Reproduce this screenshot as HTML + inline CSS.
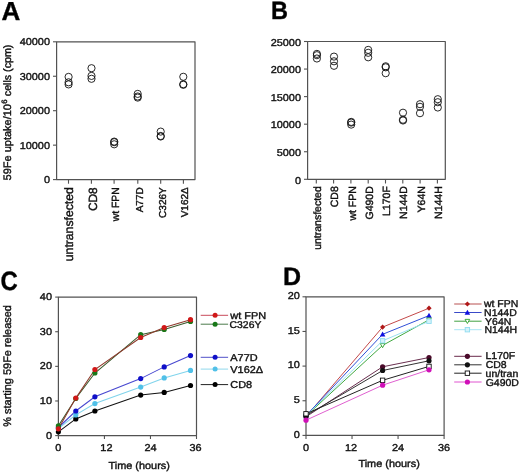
<!DOCTYPE html>
<html><head><meta charset="utf-8"><style>
html,body{margin:0;padding:0;background:#fff;}
body{width:520px;height:472px;overflow:hidden;}
svg{display:block;font-family:"Liberation Sans", sans-serif;filter:blur(0.35px);}
text{stroke:#111;stroke-width:0.4px;text-rendering:geometricPrecision;}
</style></head><body>
<svg width="520" height="472" viewBox="0 0 520 472">
<rect width="520" height="472" fill="#fff"/>
<text transform="translate(1.5,19.7) scale(1,1)" font-size="26" text-anchor="start" font-weight="bold" fill="#000" >A</text>
<rect x="56.6" y="41.8" width="138.4" height="137.8" fill="none" stroke="#525252" stroke-width="1.2" stroke-linejoin="round"/>
<line x1="53" y1="41.8" x2="56.6" y2="41.8" stroke="#525252" stroke-width="1.1"/>
<text transform="translate(50.0,45.4) scale(1.03,0.94)" font-size="10.6" text-anchor="end" font-weight="normal" fill="#111" >40000</text>
<line x1="53" y1="76.25" x2="56.6" y2="76.25" stroke="#525252" stroke-width="1.1"/>
<text transform="translate(50.0,79.85) scale(1.03,0.94)" font-size="10.6" text-anchor="end" font-weight="normal" fill="#111" >30000</text>
<line x1="53" y1="110.7" x2="56.6" y2="110.7" stroke="#525252" stroke-width="1.1"/>
<text transform="translate(50.0,114.3) scale(1.03,0.94)" font-size="10.6" text-anchor="end" font-weight="normal" fill="#111" >20000</text>
<line x1="53" y1="145.15" x2="56.6" y2="145.15" stroke="#525252" stroke-width="1.1"/>
<text transform="translate(50.0,148.75) scale(1.03,0.94)" font-size="10.6" text-anchor="end" font-weight="normal" fill="#111" >10000</text>
<line x1="53" y1="179.60000000000002" x2="56.6" y2="179.60000000000002" stroke="#525252" stroke-width="1.1"/>
<text transform="translate(50.0,183.20000000000002) scale(1.03,0.94)" font-size="10.6" text-anchor="end" font-weight="normal" fill="#111" >0</text>
<text transform="translate(10.5,180.4) rotate(-90)" font-size="10.85" text-anchor="start" fill="#111" textLength="76.4" lengthAdjust="spacingAndGlyphs">59Fe uptake/10</text>
<text transform="translate(6.9,103.8) rotate(-90)" font-size="7.8" text-anchor="start" fill="#111" >6</text>
<text transform="translate(10.5,44.6) rotate(-90)" font-size="10.7" text-anchor="end" fill="#111" textLength="51.6" lengthAdjust="spacingAndGlyphs">cells (cpm)</text>
<line x1="68.5" y1="179.6" x2="68.5" y2="183.7" stroke="#525252" stroke-width="1.1"/>
<text transform="translate(73.2,187.3) rotate(-90)" font-size="12.2" text-anchor="end" fill="#111" >untransfected</text>
<line x1="91.4" y1="179.6" x2="91.4" y2="183.7" stroke="#525252" stroke-width="1.1"/>
<text transform="translate(97.4,187.3) rotate(-90)" font-size="11.9" text-anchor="end" fill="#111" >CD8</text>
<line x1="114.1" y1="179.6" x2="114.1" y2="183.7" stroke="#525252" stroke-width="1.1"/>
<text transform="translate(119.4,187.3) rotate(-90)" font-size="10.4" text-anchor="end" fill="#111" >wt FPN</text>
<line x1="137.8" y1="179.6" x2="137.8" y2="183.7" stroke="#525252" stroke-width="1.1"/>
<text transform="translate(142.8,187.3) rotate(-90)" font-size="10.0" text-anchor="end" fill="#111" >A77D</text>
<line x1="160.7" y1="179.6" x2="160.7" y2="183.7" stroke="#525252" stroke-width="1.1"/>
<text transform="translate(165.5,187.3) rotate(-90)" font-size="10.0" text-anchor="end" fill="#111" >C326Y</text>
<line x1="183.4" y1="179.6" x2="183.4" y2="183.7" stroke="#525252" stroke-width="1.1"/>
<text transform="translate(187.5,187.3) rotate(-90)" font-size="10.0" text-anchor="end" fill="#111" >V162&#916;</text>
<circle cx="68.6" cy="76.9" r="3.6" fill="none" stroke="#111" stroke-width="0.9"/>
<circle cx="68.6" cy="82.3" r="3.6" fill="none" stroke="#111" stroke-width="0.9"/>
<circle cx="68.6" cy="84.4" r="3.6" fill="none" stroke="#111" stroke-width="0.9"/>
<circle cx="91.5" cy="68.2" r="3.6" fill="none" stroke="#111" stroke-width="0.9"/>
<circle cx="91.5" cy="75.9" r="3.6" fill="none" stroke="#111" stroke-width="0.9"/>
<circle cx="91.5" cy="78.8" r="3.6" fill="none" stroke="#111" stroke-width="0.9"/>
<circle cx="114.2" cy="141.6" r="3.6" fill="none" stroke="#111" stroke-width="0.9"/>
<circle cx="114.2" cy="142.2" r="3.6" fill="none" stroke="#111" stroke-width="0.9"/>
<circle cx="114.2" cy="144.3" r="3.6" fill="none" stroke="#111" stroke-width="0.9"/>
<circle cx="137.7" cy="93.9" r="3.6" fill="none" stroke="#111" stroke-width="0.9"/>
<circle cx="137.7" cy="96.5" r="3.6" fill="none" stroke="#111" stroke-width="0.9"/>
<circle cx="137.7" cy="97.6" r="3.6" fill="none" stroke="#111" stroke-width="0.9"/>
<circle cx="160.7" cy="131.6" r="3.6" fill="none" stroke="#111" stroke-width="0.9"/>
<circle cx="160.7" cy="136.0" r="3.6" fill="none" stroke="#111" stroke-width="0.9"/>
<circle cx="160.7" cy="136.5" r="3.6" fill="none" stroke="#111" stroke-width="0.9"/>
<circle cx="183.3" cy="76.8" r="3.6" fill="none" stroke="#111" stroke-width="0.9"/>
<circle cx="183.3" cy="84.2" r="3.6" fill="none" stroke="#111" stroke-width="0.9"/>
<circle cx="183.3" cy="84.8" r="3.6" fill="none" stroke="#111" stroke-width="0.9"/>
<text transform="translate(271.0,19.0) scale(0.94,1)" font-size="25" text-anchor="start" font-weight="bold" fill="#000" >B</text>
<rect x="307.6" y="41.5" width="137.7" height="137.8" fill="none" stroke="#525252" stroke-width="1.2" stroke-linejoin="round"/>
<line x1="304" y1="41.5" x2="307.6" y2="41.5" stroke="#525252" stroke-width="1.1"/>
<text transform="translate(301.0,45.8) scale(1.03,0.94)" font-size="10.6" text-anchor="end" font-weight="normal" fill="#111" >25000</text>
<line x1="304" y1="69.06" x2="307.6" y2="69.06" stroke="#525252" stroke-width="1.1"/>
<text transform="translate(301.0,73.36) scale(1.03,0.94)" font-size="10.6" text-anchor="end" font-weight="normal" fill="#111" >20000</text>
<line x1="304" y1="96.62" x2="307.6" y2="96.62" stroke="#525252" stroke-width="1.1"/>
<text transform="translate(301.0,100.92) scale(1.03,0.94)" font-size="10.6" text-anchor="end" font-weight="normal" fill="#111" >15000</text>
<line x1="304" y1="124.18" x2="307.6" y2="124.18" stroke="#525252" stroke-width="1.1"/>
<text transform="translate(301.0,128.48000000000002) scale(1.03,0.94)" font-size="10.6" text-anchor="end" font-weight="normal" fill="#111" >10000</text>
<line x1="304" y1="151.74" x2="307.6" y2="151.74" stroke="#525252" stroke-width="1.1"/>
<text transform="translate(301.0,156.04000000000002) scale(1.03,0.94)" font-size="10.6" text-anchor="end" font-weight="normal" fill="#111" >5000</text>
<line x1="304" y1="179.3" x2="307.6" y2="179.3" stroke="#525252" stroke-width="1.1"/>
<text transform="translate(301.0,183.60000000000002) scale(1.03,0.94)" font-size="10.6" text-anchor="end" font-weight="normal" fill="#111" >0</text>
<line x1="316.3" y1="179.3" x2="316.3" y2="183.5" stroke="#525252" stroke-width="1.1"/>
<text transform="translate(320.90000000000003,186.2) rotate(-90)" font-size="10.5" text-anchor="end" fill="#111" >untransfected</text>
<line x1="333.6" y1="179.3" x2="333.6" y2="183.5" stroke="#525252" stroke-width="1.1"/>
<text transform="translate(338.20000000000005,186.2) rotate(-90)" font-size="10.5" text-anchor="end" fill="#111" >CD8</text>
<line x1="350.90000000000003" y1="179.3" x2="350.90000000000003" y2="183.5" stroke="#525252" stroke-width="1.1"/>
<text transform="translate(355.50000000000006,186.2) rotate(-90)" font-size="10.5" text-anchor="end" fill="#111" >wt FPN</text>
<line x1="368.20000000000005" y1="179.3" x2="368.20000000000005" y2="183.5" stroke="#525252" stroke-width="1.1"/>
<text transform="translate(372.80000000000007,186.2) rotate(-90)" font-size="10.5" text-anchor="end" fill="#111" >G490D</text>
<line x1="385.5" y1="179.3" x2="385.5" y2="183.5" stroke="#525252" stroke-width="1.1"/>
<text transform="translate(390.1,186.2) rotate(-90)" font-size="10.5" text-anchor="end" fill="#111" >L170F</text>
<line x1="402.8" y1="179.3" x2="402.8" y2="183.5" stroke="#525252" stroke-width="1.1"/>
<text transform="translate(407.40000000000003,186.2) rotate(-90)" font-size="10.5" text-anchor="end" fill="#111" >N144D</text>
<line x1="420.1" y1="179.3" x2="420.1" y2="183.5" stroke="#525252" stroke-width="1.1"/>
<text transform="translate(424.70000000000005,186.2) rotate(-90)" font-size="10.5" text-anchor="end" fill="#111" >Y64N</text>
<line x1="437.40000000000003" y1="179.3" x2="437.40000000000003" y2="183.5" stroke="#525252" stroke-width="1.1"/>
<text transform="translate(442.00000000000006,186.2) rotate(-90)" font-size="10.5" text-anchor="end" fill="#111" >N144H</text>
<circle cx="316.9" cy="53.9" r="3.6" fill="none" stroke="#111" stroke-width="0.9"/>
<circle cx="316.9" cy="55.2" r="3.6" fill="none" stroke="#111" stroke-width="0.9"/>
<circle cx="316.9" cy="58.5" r="3.6" fill="none" stroke="#111" stroke-width="0.9"/>
<circle cx="334.0" cy="56.6" r="3.6" fill="none" stroke="#111" stroke-width="0.9"/>
<circle cx="334.0" cy="61.3" r="3.6" fill="none" stroke="#111" stroke-width="0.9"/>
<circle cx="334.0" cy="65.8" r="3.6" fill="none" stroke="#111" stroke-width="0.9"/>
<circle cx="351.2" cy="121.9" r="3.6" fill="none" stroke="#111" stroke-width="0.9"/>
<circle cx="351.2" cy="122.6" r="3.6" fill="none" stroke="#111" stroke-width="0.9"/>
<circle cx="351.2" cy="124.6" r="3.6" fill="none" stroke="#111" stroke-width="0.9"/>
<circle cx="368.2" cy="49.9" r="3.6" fill="none" stroke="#111" stroke-width="0.9"/>
<circle cx="368.2" cy="52.8" r="3.6" fill="none" stroke="#111" stroke-width="0.9"/>
<circle cx="368.2" cy="57.3" r="3.6" fill="none" stroke="#111" stroke-width="0.9"/>
<circle cx="385.7" cy="66.3" r="3.6" fill="none" stroke="#111" stroke-width="0.9"/>
<circle cx="385.7" cy="67.3" r="3.6" fill="none" stroke="#111" stroke-width="0.9"/>
<circle cx="385.7" cy="73.2" r="3.6" fill="none" stroke="#111" stroke-width="0.9"/>
<circle cx="403.0" cy="112.7" r="3.6" fill="none" stroke="#111" stroke-width="0.9"/>
<circle cx="403.0" cy="119.7" r="3.6" fill="none" stroke="#111" stroke-width="0.9"/>
<circle cx="403.0" cy="120.5" r="3.6" fill="none" stroke="#111" stroke-width="0.9"/>
<circle cx="420.0" cy="104.2" r="3.6" fill="none" stroke="#111" stroke-width="0.9"/>
<circle cx="420.0" cy="106.8" r="3.6" fill="none" stroke="#111" stroke-width="0.9"/>
<circle cx="420.0" cy="113.2" r="3.6" fill="none" stroke="#111" stroke-width="0.9"/>
<circle cx="437.8" cy="99.2" r="3.6" fill="none" stroke="#111" stroke-width="0.9"/>
<circle cx="437.8" cy="102.2" r="3.6" fill="none" stroke="#111" stroke-width="0.9"/>
<circle cx="437.8" cy="107.5" r="3.6" fill="none" stroke="#111" stroke-width="0.9"/>
<text transform="translate(0.5,290.4) scale(0.92,1.02)" font-size="26" text-anchor="start" font-weight="bold" fill="#000" >C</text>
<rect x="58.4" y="297.1" width="138.1" height="138.5" fill="none" stroke="#525252" stroke-width="1.2" stroke-linejoin="round"/>
<line x1="55.2" y1="297.1" x2="58.4" y2="297.1" stroke="#525252" stroke-width="1.1"/>
<text transform="translate(52.0,300.1) scale(1.03,0.94)" font-size="10.6" text-anchor="end" font-weight="normal" fill="#111" >40</text>
<line x1="55.2" y1="331.725" x2="58.4" y2="331.725" stroke="#525252" stroke-width="1.1"/>
<text transform="translate(52.0,334.725) scale(1.03,0.94)" font-size="10.6" text-anchor="end" font-weight="normal" fill="#111" >30</text>
<line x1="55.2" y1="366.35" x2="58.4" y2="366.35" stroke="#525252" stroke-width="1.1"/>
<text transform="translate(52.0,369.35) scale(1.03,0.94)" font-size="10.6" text-anchor="end" font-weight="normal" fill="#111" >20</text>
<line x1="55.2" y1="400.975" x2="58.4" y2="400.975" stroke="#525252" stroke-width="1.1"/>
<text transform="translate(52.0,403.975) scale(1.03,0.94)" font-size="10.6" text-anchor="end" font-weight="normal" fill="#111" >10</text>
<line x1="55.2" y1="435.6" x2="58.4" y2="435.6" stroke="#525252" stroke-width="1.1"/>
<text transform="translate(52.0,438.6) scale(1.03,0.94)" font-size="10.6" text-anchor="end" font-weight="normal" fill="#111" >0</text>
<line x1="58.4" y1="435.6" x2="58.4" y2="439" stroke="#525252" stroke-width="1.1"/>
<text transform="translate(58.4,450.5) scale(1.03,0.94)" font-size="10.6" text-anchor="middle" font-weight="normal" fill="#111" >0</text>
<line x1="104.43333333333334" y1="435.6" x2="104.43333333333334" y2="439" stroke="#525252" stroke-width="1.1"/>
<text transform="translate(106.43333333333334,450.5) scale(1.03,0.94)" font-size="10.6" text-anchor="middle" font-weight="normal" fill="#111" >12</text>
<line x1="150.46666666666667" y1="435.6" x2="150.46666666666667" y2="439" stroke="#525252" stroke-width="1.1"/>
<text transform="translate(150.46666666666667,450.5) scale(1.03,0.94)" font-size="10.6" text-anchor="middle" font-weight="normal" fill="#111" >24</text>
<line x1="196.5" y1="435.6" x2="196.5" y2="439" stroke="#525252" stroke-width="1.1"/>
<text transform="translate(195.5,450.5) scale(1.03,0.94)" font-size="10.6" text-anchor="middle" font-weight="normal" fill="#111" >36</text>
<text transform="translate(139.2,468.6) scale(1.0,0.94)" font-size="10.9" text-anchor="middle" font-weight="normal" fill="#111" >Time (hours)</text>
<text transform="translate(10.9,305.1) rotate(-90)" font-size="10.95" text-anchor="end" fill="#111" >% starting 59Fe released</text>
<polyline points="58.4,431.8 75.8,418.9 94.9,411.0 140.7,395.1 164.2,392.4 190.5,385.5" fill="none" stroke="#111111" stroke-width="1.05"/>
<polyline points="58.4,428.5 75.8,414.9 94.9,403.6 140.7,387.1 164.2,377.9 190.5,370.4" fill="none" stroke="#80d4ec" stroke-width="1.05"/>
<polyline points="58.4,427.5 75.8,411.0 94.9,396.8 140.7,378.6 164.2,366.9 190.5,355.6" fill="none" stroke="#4848d0" stroke-width="1.05"/>
<polyline points="58.4,425.8 75.8,398.5 94.9,373.0 140.7,334.7 164.2,329.5 190.5,321.5" fill="none" stroke="#3a5a2c" stroke-width="1.05"/>
<polyline points="58.4,428.8 75.8,398.1 94.9,369.5 140.7,337.5 164.2,327.6 190.5,319.7" fill="none" stroke="#8e3a2c" stroke-width="1.05"/>
<circle cx="58.4" cy="431.8" r="2.6" fill="#000000" stroke="none" stroke-width="0.9"/>
<circle cx="75.8" cy="418.9" r="2.6" fill="#000000" stroke="none" stroke-width="0.9"/>
<circle cx="94.9" cy="411.0" r="2.6" fill="#000000" stroke="none" stroke-width="0.9"/>
<circle cx="140.7" cy="395.1" r="2.6" fill="#000000" stroke="none" stroke-width="0.9"/>
<circle cx="164.2" cy="392.4" r="2.6" fill="#000000" stroke="none" stroke-width="0.9"/>
<circle cx="190.5" cy="385.5" r="2.6" fill="#000000" stroke="none" stroke-width="0.9"/>
<circle cx="58.4" cy="428.5" r="2.6" fill="#50c0e8" stroke="none" stroke-width="0.9"/>
<circle cx="75.8" cy="414.9" r="2.6" fill="#50c0e8" stroke="none" stroke-width="0.9"/>
<circle cx="94.9" cy="403.6" r="2.6" fill="#50c0e8" stroke="none" stroke-width="0.9"/>
<circle cx="140.7" cy="387.1" r="2.6" fill="#50c0e8" stroke="none" stroke-width="0.9"/>
<circle cx="164.2" cy="377.9" r="2.6" fill="#50c0e8" stroke="none" stroke-width="0.9"/>
<circle cx="190.5" cy="370.4" r="2.6" fill="#50c0e8" stroke="none" stroke-width="0.9"/>
<circle cx="58.4" cy="427.5" r="2.6" fill="#1010c8" stroke="none" stroke-width="0.9"/>
<circle cx="75.8" cy="411.0" r="2.6" fill="#1010c8" stroke="none" stroke-width="0.9"/>
<circle cx="94.9" cy="396.8" r="2.6" fill="#1010c8" stroke="none" stroke-width="0.9"/>
<circle cx="140.7" cy="378.6" r="2.6" fill="#1010c8" stroke="none" stroke-width="0.9"/>
<circle cx="164.2" cy="366.9" r="2.6" fill="#1010c8" stroke="none" stroke-width="0.9"/>
<circle cx="190.5" cy="355.6" r="2.6" fill="#1010c8" stroke="none" stroke-width="0.9"/>
<circle cx="58.4" cy="425.8" r="2.6" fill="#187818" stroke="none" stroke-width="0.9"/>
<circle cx="75.8" cy="398.5" r="2.6" fill="#187818" stroke="none" stroke-width="0.9"/>
<circle cx="94.9" cy="373.0" r="2.6" fill="#187818" stroke="none" stroke-width="0.9"/>
<circle cx="140.7" cy="334.7" r="2.6" fill="#187818" stroke="none" stroke-width="0.9"/>
<circle cx="164.2" cy="329.5" r="2.6" fill="#187818" stroke="none" stroke-width="0.9"/>
<circle cx="190.5" cy="321.5" r="2.6" fill="#187818" stroke="none" stroke-width="0.9"/>
<circle cx="58.4" cy="428.8" r="2.6" fill="#d01818" stroke="none" stroke-width="0.9"/>
<circle cx="75.8" cy="398.1" r="2.6" fill="#d01818" stroke="none" stroke-width="0.9"/>
<circle cx="94.9" cy="369.5" r="2.6" fill="#d01818" stroke="none" stroke-width="0.9"/>
<circle cx="140.7" cy="337.5" r="2.6" fill="#d01818" stroke="none" stroke-width="0.9"/>
<circle cx="164.2" cy="327.6" r="2.6" fill="#d01818" stroke="none" stroke-width="0.9"/>
<circle cx="190.5" cy="319.7" r="2.6" fill="#d01818" stroke="none" stroke-width="0.9"/>
<line x1="200.7" y1="315.3" x2="228.1" y2="315.3" stroke="#c84a5a" stroke-width="1"/>
<circle cx="215.1" cy="315.3" r="2.5" fill="#d01818" stroke="none" stroke-width="0.9"/>
<text transform="translate(230.3,319.0) scale(1.03,0.94)" font-size="10.6" text-anchor="start" font-weight="normal" fill="#111" >wt FPN</text>
<line x1="200.7" y1="324.2" x2="228.1" y2="324.2" stroke="#4a7a4a" stroke-width="1"/>
<circle cx="215.1" cy="324.2" r="2.5" fill="#187818" stroke="none" stroke-width="0.9"/>
<text transform="translate(229.6,328.4) scale(0.98,0.93)" font-size="10.6" text-anchor="start" font-weight="normal" fill="#111" >C326Y</text>
<line x1="200.7" y1="357.3" x2="228.1" y2="357.3" stroke="#5050c8" stroke-width="1"/>
<circle cx="215.1" cy="357.3" r="2.5" fill="#1010c8" stroke="none" stroke-width="0.9"/>
<text transform="translate(230.3,361.0) scale(1.03,0.94)" font-size="10.6" text-anchor="start" font-weight="normal" fill="#111" >A77D</text>
<line x1="200.7" y1="369.1" x2="228.1" y2="369.1" stroke="#90d8ec" stroke-width="1"/>
<circle cx="215.1" cy="369.1" r="2.5" fill="#50c0e8" stroke="none" stroke-width="0.9"/>
<text transform="translate(230.3,372.8) scale(1.03,0.94)" font-size="10.6" text-anchor="start" font-weight="normal" fill="#111" >V162&#916;</text>
<line x1="200.7" y1="384.6" x2="228.1" y2="384.6" stroke="#222" stroke-width="1"/>
<circle cx="215.1" cy="384.6" r="2.5" fill="#000" stroke="none" stroke-width="0.9"/>
<text transform="translate(230.3,388.3) scale(1.03,0.94)" font-size="10.6" text-anchor="start" font-weight="normal" fill="#111" >CD8</text>
<text transform="translate(283.0,285.2) scale(1,1)" font-size="25" text-anchor="start" font-weight="bold" fill="#000" >D</text>
<rect x="306.0" y="296.8" width="138.10000000000002" height="138.59999999999997" fill="none" stroke="#525252" stroke-width="1.2" stroke-linejoin="round"/>
<line x1="302.5" y1="296.8" x2="306.0" y2="296.8" stroke="#525252" stroke-width="1.1"/>
<text transform="translate(299.8,298.90000000000003) scale(1.03,0.94)" font-size="10.6" text-anchor="end" font-weight="normal" fill="#111" >20</text>
<line x1="302.5" y1="331.45" x2="306.0" y2="331.45" stroke="#525252" stroke-width="1.1"/>
<text transform="translate(299.8,333.55) scale(1.03,0.94)" font-size="10.6" text-anchor="end" font-weight="normal" fill="#111" >15</text>
<line x1="302.5" y1="366.1" x2="306.0" y2="366.1" stroke="#525252" stroke-width="1.1"/>
<text transform="translate(299.8,368.20000000000005) scale(1.03,0.94)" font-size="10.6" text-anchor="end" font-weight="normal" fill="#111" >10</text>
<line x1="302.5" y1="400.75" x2="306.0" y2="400.75" stroke="#525252" stroke-width="1.1"/>
<text transform="translate(299.8,402.85) scale(1.03,0.94)" font-size="10.6" text-anchor="end" font-weight="normal" fill="#111" >5</text>
<line x1="302.5" y1="435.4" x2="306.0" y2="435.4" stroke="#525252" stroke-width="1.1"/>
<text transform="translate(299.8,437.5) scale(1.03,0.94)" font-size="10.6" text-anchor="end" font-weight="normal" fill="#111" >0</text>
<line x1="306.0" y1="435.4" x2="306.0" y2="439" stroke="#525252" stroke-width="1.1"/>
<text transform="translate(306.0,450.6) scale(1.03,0.94)" font-size="10.6" text-anchor="middle" font-weight="normal" fill="#111" >0</text>
<line x1="352.03333333333336" y1="435.4" x2="352.03333333333336" y2="439" stroke="#525252" stroke-width="1.1"/>
<text transform="translate(351.03333333333336,450.6) scale(1.03,0.94)" font-size="10.6" text-anchor="middle" font-weight="normal" fill="#111" >12</text>
<line x1="398.06666666666666" y1="435.4" x2="398.06666666666666" y2="439" stroke="#525252" stroke-width="1.1"/>
<text transform="translate(398.06666666666666,450.6) scale(1.03,0.94)" font-size="10.6" text-anchor="middle" font-weight="normal" fill="#111" >24</text>
<line x1="444.1" y1="435.4" x2="444.1" y2="439" stroke="#525252" stroke-width="1.1"/>
<text transform="translate(444.1,450.6) scale(1.03,0.94)" font-size="10.6" text-anchor="middle" font-weight="normal" fill="#111" >36</text>
<text transform="translate(389.1,467.1) scale(1.0,0.94)" font-size="10.9" text-anchor="middle" font-weight="normal" fill="#111" >Time (hours)</text>
<polyline points="306.0,416.6 382.6,327.1 429.0,308.2" fill="none" stroke="#c44848" stroke-width="1"/>
<polyline points="306.0,415.6 382.6,334.3 429.0,315.6" fill="none" stroke="#3050d8" stroke-width="1"/>
<polyline points="306.0,416.0 382.6,345.4 429.0,319.8" fill="none" stroke="#40a840" stroke-width="1"/>
<polyline points="306.0,415.8 382.6,340.8 429.0,321.3" fill="none" stroke="#98e0f0" stroke-width="1"/>
<polyline points="306.0,416.8 382.6,366.8 429.0,357.5" fill="none" stroke="#6a3050" stroke-width="1"/>
<polyline points="306.0,415.6 382.6,370.5 429.0,360.8" fill="none" stroke="#333" stroke-width="1"/>
<polyline points="306.0,413.8 382.6,380.3 429.0,366.4" fill="none" stroke="#222" stroke-width="1"/>
<polyline points="306.0,420.2 382.6,385.2 429.0,369.8" fill="none" stroke="#e060d0" stroke-width="1"/>
<polygon points="306.0,414.0 308.6,416.6 306.0,419.20000000000005 303.4,416.6" fill="#b01818"/>
<polygon points="382.6,324.5 385.20000000000005,327.1 382.6,329.70000000000005 380.0,327.1" fill="#b01818"/>
<polygon points="429.0,305.59999999999997 431.6,308.2 429.0,310.8 426.4,308.2" fill="#b01818"/>
<polygon points="306.0,412.8 308.8,417.84000000000003 303.2,417.84000000000003" fill="#1010e0"/>
<polygon points="382.6,331.5 385.40000000000003,336.54 379.8,336.54" fill="#1010e0"/>
<polygon points="429.0,312.8 431.8,317.84000000000003 426.2,317.84000000000003" fill="#1010e0"/>
<polygon points="303.7,414.16 308.3,414.16 306.0,418.3" fill="#fff" stroke="#2aa02a" stroke-width="0.9"/>
<polygon points="380.3,343.56 384.90000000000003,343.56 382.6,347.7" fill="#fff" stroke="#2aa02a" stroke-width="0.9"/>
<polygon points="426.7,317.96000000000004 431.3,317.96000000000004 429.0,322.1" fill="#fff" stroke="#2aa02a" stroke-width="0.9"/>
<rect x="303.8" y="413.6" width="4.4" height="4.4" fill="#d4f2fa" stroke="#90dcf0" stroke-width="0.9"/>
<rect x="380.40000000000003" y="338.6" width="4.4" height="4.4" fill="#d4f2fa" stroke="#90dcf0" stroke-width="0.9"/>
<rect x="426.8" y="319.1" width="4.4" height="4.4" fill="#d4f2fa" stroke="#90dcf0" stroke-width="0.9"/>
<circle cx="306.0" cy="416.8" r="2.6" fill="#4a0a2a" stroke="none" stroke-width="0.9"/>
<circle cx="382.6" cy="366.8" r="2.6" fill="#4a0a2a" stroke="none" stroke-width="0.9"/>
<circle cx="429.0" cy="357.5" r="2.6" fill="#4a0a2a" stroke="none" stroke-width="0.9"/>
<circle cx="306.0" cy="415.6" r="2.6" fill="#111" stroke="none" stroke-width="0.9"/>
<circle cx="382.6" cy="370.5" r="2.6" fill="#111" stroke="none" stroke-width="0.9"/>
<circle cx="429.0" cy="360.8" r="2.6" fill="#111" stroke="none" stroke-width="0.9"/>
<rect x="303.8" y="411.6" width="4.4" height="4.4" fill="#fff" stroke="#111" stroke-width="0.9"/>
<rect x="380.40000000000003" y="378.1" width="4.4" height="4.4" fill="#fff" stroke="#111" stroke-width="0.9"/>
<rect x="426.8" y="364.2" width="4.4" height="4.4" fill="#fff" stroke="#111" stroke-width="0.9"/>
<circle cx="306.0" cy="420.2" r="2.6" fill="#d010b8" stroke="none" stroke-width="0.9"/>
<circle cx="382.6" cy="385.2" r="2.6" fill="#d010b8" stroke="none" stroke-width="0.9"/>
<circle cx="429.0" cy="369.8" r="2.6" fill="#d010b8" stroke="none" stroke-width="0.9"/>
<line x1="454.2" y1="304.0" x2="481.6" y2="304.0" stroke="#b85050" stroke-width="1"/>
<polygon points="467.4,301.4 470.0,304.0 467.4,306.6 464.79999999999995,304.0" fill="#b01818"/>
<text transform="translate(483.9,306.7) scale(0.99,0.94)" font-size="10.6" text-anchor="start" font-weight="normal" fill="#111" >wt FPN</text>
<line x1="454.2" y1="312.5" x2="481.6" y2="312.5" stroke="#3a4ac8" stroke-width="1"/>
<polygon points="467.4,309.7 470.2,314.74 464.59999999999997,314.74" fill="#1010e0"/>
<text transform="translate(484.1,315.8) scale(0.99,0.94)" font-size="10.6" text-anchor="start" font-weight="normal" fill="#111" >N144D</text>
<line x1="454.2" y1="321.2" x2="481.6" y2="321.2" stroke="#40a040" stroke-width="1"/>
<polygon points="465.09999999999997,319.36 469.7,319.36 467.4,323.5" fill="#fff" stroke="#2aa02a" stroke-width="0.9"/>
<text transform="translate(485.1,324.6) scale(0.99,0.94)" font-size="10.6" text-anchor="start" font-weight="normal" fill="#111" >Y64N</text>
<line x1="454.2" y1="329.7" x2="481.6" y2="329.7" stroke="#a8e4f4" stroke-width="1"/>
<rect x="465.2" y="327.5" width="4.4" height="4.4" fill="#d4f2fa" stroke="#90dcf0" stroke-width="0.9"/>
<text transform="translate(484.4,333.3) scale(0.99,0.94)" font-size="10.6" text-anchor="start" font-weight="normal" fill="#111" >N144H</text>
<line x1="454.2" y1="356.3" x2="481.6" y2="356.3" stroke="#6a2a4a" stroke-width="1"/>
<circle cx="467.4" cy="356.3" r="2.6" fill="#4a0a2a" stroke="none" stroke-width="0.9"/>
<text transform="translate(485.5,358.5) scale(0.99,0.94)" font-size="10.6" text-anchor="start" font-weight="normal" fill="#111" >L170F</text>
<line x1="454.2" y1="364.8" x2="481.6" y2="364.8" stroke="#333" stroke-width="1"/>
<circle cx="467.4" cy="364.8" r="2.6" fill="#111" stroke="none" stroke-width="0.9"/>
<text transform="translate(485.7,368.4) scale(0.99,0.94)" font-size="10.6" text-anchor="start" font-weight="normal" fill="#111" >CD8</text>
<line x1="454.2" y1="373.2" x2="481.6" y2="373.2" stroke="#222" stroke-width="1"/>
<rect x="465.2" y="371.0" width="4.4" height="4.4" fill="#fff" stroke="#111" stroke-width="0.9"/>
<text transform="translate(485.6,376.6) scale(0.99,0.94)" font-size="10.6" text-anchor="start" font-weight="normal" fill="#111" >un/tran</text>
<line x1="454.2" y1="382.0" x2="481.6" y2="382.0" stroke="#e055d0" stroke-width="1"/>
<circle cx="467.4" cy="382.0" r="2.6" fill="#d010b8" stroke="none" stroke-width="0.9"/>
<text transform="translate(485.7,385.9) scale(0.99,0.94)" font-size="10.6" text-anchor="start" font-weight="normal" fill="#111" >G490D</text>
</svg>
</body></html>
